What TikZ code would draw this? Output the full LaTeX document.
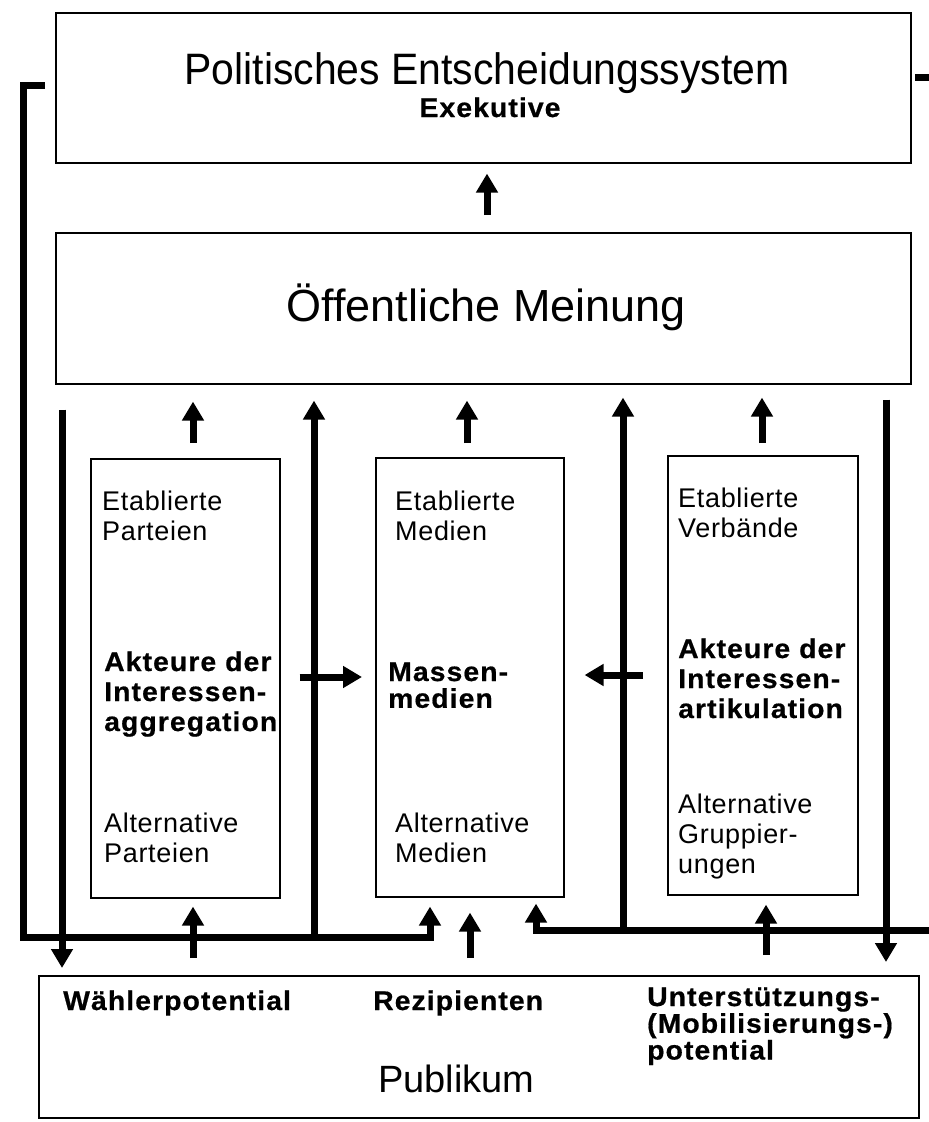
\documentclass[tikz,border=0pt]{standalone}
\usepackage{fontspec}
\setmainfont{Liberation Sans}
\newfontfamily\regsp[LetterSpace=2.5]{Liberation Sans}
\newfontfamily\condf[FakeStretch=0.93]{Liberation Sans}
\newfontfamily\boldsp[FakeStretch=1.05, LetterSpace=4, BoldFeatures={FakeBold=0.6}]{Liberation Sans}
\usetikzlibrary{arrows.meta}
\newcommand\lns[1]{\begin{tabular}[t]{@{}l@{}}#1\end{tabular}}
\begin{document}
\begin{tikzpicture}[x=1pt,y=-1pt,
  box/.style={draw, line width=1.6pt, inner sep=0, anchor=north west},
  arr/.style={line width=7pt, -{Triangle[width=21pt,length=19pt]}},
  fbline/.style={line width=7pt},
  rtxt/.style={inner sep=0, anchor=base west, font=\regsp\fontsize{27}{30}\selectfont},
  btxt/.style={inner sep=0, anchor=base west, font=\boldsp\bfseries\fontsize{27}{30}\selectfont},
  btxtn/.style={inner sep=0, anchor=base west, font=\boldsp\bfseries\fontsize{27}{24}\selectfont},
]
\useasboundingbox (0,0) rectangle (929,1122);
\fill[white] (0,0) rectangle (929,1122);

% boxes
\node[box, minimum width=855pt, minimum height=150pt] (pol) at (55,12) {};
\node[box, minimum width=855pt, minimum height=151pt] (oeff) at (55,232) {};
\node[box, minimum width=189pt, minimum height=439pt] (aggr) at (90,458) {};
\node[box, minimum width=188pt, minimum height=439pt] (mm) at (375,457) {};
\node[box, minimum width=190pt, minimum height=439pt] (art) at (667,455) {};
\node[box, minimum width=880pt, minimum height=142pt] (pub) at (38,975) {};

% texts
\node[font=\condf\fontsize{44}{50}\selectfont, inner sep=0, anchor=base] (t1) at (487,84) {Politisches Entscheidungssystem};
\node[font=\boldsp\bfseries\fontsize{27}{30}\selectfont, inner sep=0, anchor=base] (t2) at (490,117) {Exekutive};
\node[font=\fontsize{45}{52}\selectfont, inner sep=0, anchor=base] (t3) at (486,321) {Öffentliche Meinung};

\node[rtxt] (ep) at (102,510) {\lns{Etablierte\\Parteien}};
\node[btxt] (aia) at (104,671) {\lns{Akteure der\\Interessen-\\aggregation}};
\node[rtxt] (ap) at (104,832) {\lns{Alternative\\Parteien}};

\node[rtxt] (em) at (395,510) {\lns{Etablierte\\Medien}};
\node[btxtn] (mmt) at (388,681) {\lns{Massen-\\medien}};
\node[rtxt] (am) at (395,832) {\lns{Alternative\\Medien}};

\node[rtxt] (ev) at (678,507) {\lns{Etablierte\\Verbände}};
\node[btxt] (aiar) at (678,658) {\lns{Akteure der\\Interessen-\\artikulation}};
\node[rtxt] (ag) at (678,813) {\lns{Alternative\\Gruppier-\\ungen}};

\node[btxt] (wp) at (63,1010) {Wählerpotential};
\node[btxt] (rz) at (373,1010) {Rezipienten};
\node[btxtn] (us) at (647,1006) {\lns{Unterstützungs-\\(Mobilisierungs-)\\potential}};
\node[font=\fontsize{38}{44}\selectfont, inner sep=0, anchor=base west] (pubt) at (378,1092) {Publikum};

% helper coordinates
\coordinate (cT) at (487,0);
\coordinate (cU1) at (193,0);
\coordinate (cU2) at (467,0);
\coordinate (cU3) at (762,0);
\coordinate (cP1) at (193,0);
\coordinate (cP2) at (470,0);
\coordinate (cP3) at (766,0);
\coordinate (cF1) at (430,0);
\coordinate (cF2) at (536,0);
\coordinate (xL) at (62,0);
\coordinate (xA) at (314,0);
\coordinate (xB) at (623,0);
\coordinate (xR) at (886,0);
\coordinate (yH) at (0,677);
\coordinate (yH2) at (0,675);
\coordinate (fbL) at (23,937);
\coordinate (fbR) at (940,930);
\coordinate (stubL) at (45,85);
\coordinate (stubR) at (915,77);

% arrows up to Politisches Entscheidungssystem / Oeffentliche Meinung
\draw[arr, shorten <=17pt, shorten >=10pt] (cT |- oeff.north) -- (cT |- pol.south);
\draw[arr, shorten <=15pt, shorten >=17pt] (cU1 |- aggr.north) -- (cU1 |- oeff.south);
\draw[arr, shorten <=14pt, shorten >=16pt] (cU2 |- mm.north) -- (cU2 |- oeff.south);
\draw[arr, shorten <=12pt, shorten >=13pt] (cU3 |- art.north) -- (cU3 |- oeff.south);

% long vertical lines
\draw[arr, shorten <=25pt, shorten >=7pt] (xL |- oeff.south) -- (xL |- pub.north);
\draw[arr, shorten >=16pt] (xA |- fbL) -- (xA |- oeff.south);
\draw[arr, shorten >=13pt] (xB |- fbR) -- (xB |- oeff.south);
\draw[arr, shorten <=15pt, shorten >=13pt] (xR |- oeff.south) -- (xR |- pub.north);

% feedback loops
\draw[arr] (stubL) -| (fbL) -| ([yshift=-9pt]cF1 |- mm.south);
\draw[fbline] (stubR) -- ++(30,0);
\draw[arr] (fbR) -| ([yshift=-6pt]cF2 |- mm.south);

% arrows from Publikum
\draw[arr, shorten <=17pt, shorten >=8pt] (cP1 |- pub.north) -- (cP1 |- aggr.south);
\draw[arr, shorten <=17pt, shorten >=15pt] (cP2 |- pub.north) -- (cP2 |- mm.south);
\draw[arr, shorten <=20pt, shorten >=9pt] (cP3 |- pub.north) -- (cP3 |- art.south);

% horizontal arrows to Massenmedien
\draw[arr, shorten <=19pt, shorten >=13pt] (aggr.east |- yH) -- (mm.west |- yH);
\draw[arr, shorten <=24pt, shorten >=20pt] (art.west |- yH2) -- (mm.east |- yH2);
\end{tikzpicture}
\end{document}
